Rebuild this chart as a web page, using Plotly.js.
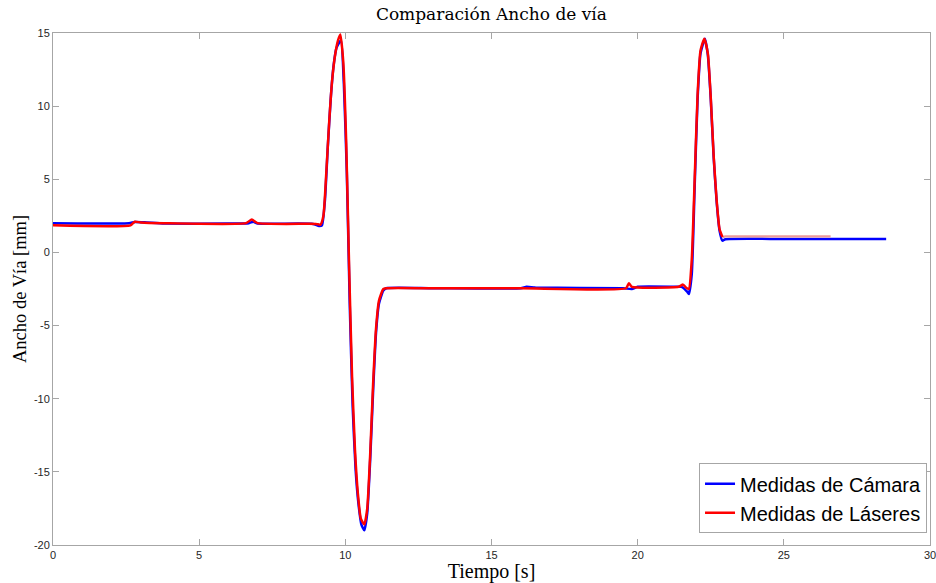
<!DOCTYPE html>
<html>
<head>
<meta charset="utf-8">
<script src="https://cdn.plot.ly/plotly-3.0.1.min.js"></script>
<style>html,body{margin:0;padding:0;background:#fff;}#chart{width:936px;height:583px;}</style>
</head>
<body>
<div id="chart"></div>
<script>
// Medidas de Cámara (blue)
const camT = [0, 2.6, 2.8, 3.2, 3.8, 6.0, 6.7, 6.85, 7.0, 8.9, 9.1, 9.2, 9.3, 9.4, 9.5, 9.6, 9.7, 9.85, 9.95, 10.05, 10.15, 10.25, 10.35, 10.45, 10.55, 10.65, 10.75, 10.85, 10.95, 11.05, 11.15, 11.3, 11.4, 13.0, 16.0, 16.2, 16.5, 19.5, 19.8, 20.0, 21.3, 21.5, 21.7, 21.75, 21.85, 21.95, 22.05, 22.15, 22.3, 22.4, 22.5, 22.6, 22.7, 22.8, 22.9, 23.0, 25.0, 28.5];
const camV = [2.0, 2.0, 2.08, 2.05, 1.98, 1.97, 2.0, 2.1, 1.98, 1.95, 1.8, 1.85, 3.5, 7.2, 10.5, 12.8, 14.0, 14.5, 11.5, 5.5, -3.5, -10.5, -14.8, -17.2, -18.6, -19.0, -17.8, -14.2, -9.5, -5.5, -3.5, -2.6, -2.45, -2.45, -2.45, -2.35, -2.4, -2.45, -2.5, -2.35, -2.35, -2.35, -2.7, -2.85, -1.5, 4.5, 10.5, 13.6, 14.6, 13.5, 10.5, 6.5, 3.5, 1.5, 0.8, 0.9, 0.92, 0.92];

// Medidas de Láseres (red)
const lasT = [0, 2.65, 2.8, 3.0, 3.8, 6.6, 6.8, 7.0, 9.0, 9.15, 9.25, 9.35, 9.45, 9.55, 9.65, 9.75, 9.83, 9.93, 10.03, 10.13, 10.23, 10.33, 10.43, 10.53, 10.65, 10.75, 10.85, 10.95, 11.05, 11.15, 11.3, 11.4, 13.0, 16.0, 19.6, 19.7, 19.8, 21.4, 21.55, 21.65, 21.75, 21.85, 21.95, 22.05, 22.15, 22.28, 22.4, 22.5, 22.6, 22.7, 22.8, 22.9, 23.0, 26.6];
const lasV = [1.85, 1.85, 2.1, 2.05, 2.0, 2.0, 2.25, 2.0, 1.95, 1.9, 2.5, 5.5, 9.0, 11.8, 13.5, 14.5, 14.9, 13.0, 7.5, -1.0, -8.5, -13.5, -16.5, -18.2, -18.6, -17.5, -13.8, -9.0, -5.2, -3.3, -2.5, -2.45, -2.45, -2.45, -2.45, -2.1, -2.35, -2.35, -2.2, -2.4, -2.5, -0.5, 5.0, 10.8, 13.8, 14.6, 13.6, 10.6, 6.6, 3.6, 1.6, 1.05, 1.1, 1.1];

// Tick labels
const xTicks = [0, 5, 10, 15, 20, 25, 30];
const xTickText = ['0', '5', '10', '15', '20', '25', '30'];
const yTicks = [-20, -15, -10, -5, 0, 5, 10, 15];
const yTickText = ['-20', '-15', '-10', '-5', '0', '5', '10', '15'];

const tailStart = lasT.indexOf(23.0) - 1;

const traces = [
  {x: camT, y: camV, type: 'scatter', mode: 'lines', name: 'Medidas de Cámara',
   line: {color: '#0000ff', width: 2.5, shape: 'spline', smoothing: 0.5}},
  {x: lasT.slice(tailStart), y: lasV.slice(tailStart), type: 'scatter', mode: 'lines', showlegend: false,
   line: {color: '#ec9a9a', width: 2.2}, hoverinfo: 'skip'},
  {x: lasT.slice(0, tailStart + 1), y: lasV.slice(0, tailStart + 1), type: 'scatter', mode: 'lines', name: 'Medidas de Láseres',
   line: {color: '#ff0000', width: 2.5, shape: 'spline', smoothing: 0.5}}
];

const serif = 'Liberation Serif, DejaVu Serif, serif';
const axisCommon = {
  showgrid: false, zeroline: false, showline: true, mirror: 'ticks',
  linecolor: '#a6a6a6', linewidth: 1, ticks: 'inside', ticklen: 6, tickcolor: '#a6a6a6',
  ticklabeloverflow: 'allow',
  tickfont: {family: 'Liberation Sans, Arial, sans-serif', size: 11, color: '#262626'}
};

const layout = {
  width: 936, height: 583,
  margin: {l: 53, r: 6, t: 33, b: 38},
  paper_bgcolor: '#ffffff', plot_bgcolor: '#ffffff',
  title: {text: 'Comparación Ancho de vía', font: {family: 'DejaVu Serif, serif', size: 17, color: '#000'}, x: 0.525, xanchor: 'center', y: 0.976, yanchor: 'middle'},
  xaxis: Object.assign({}, axisCommon, {range: [0, 30], tickmode: 'array', tickvals: xTicks, ticktext: xTickText,
    title: {text: 'Tiempo [s]', font: {family: serif, size: 20, color: '#000'}, standoff: 4}}),
  yaxis: Object.assign({}, axisCommon, {range: [-20, 15], tickmode: 'array', tickvals: yTicks, ticktext: yTickText,
    title: {text: 'Ancho de Vía [mm]', font: {family: serif, size: 18.5, color: '#000'}, standoff: 2}}),
  legend: {x: 0.9966, y: 0.023, xanchor: 'right', yanchor: 'bottom', bgcolor: '#ffffff',
    bordercolor: '#a6a6a6', borderwidth: 1, font: {family: 'Liberation Sans, Arial, sans-serif', size: 20, color: '#000'},
    tracegroupgap: 0, itemwidth: 30},
  showlegend: true
};

Plotly.newPlot('chart', traces, layout, {displayModeBar: false, staticPlot: true});
</script>
</body>
</html>
